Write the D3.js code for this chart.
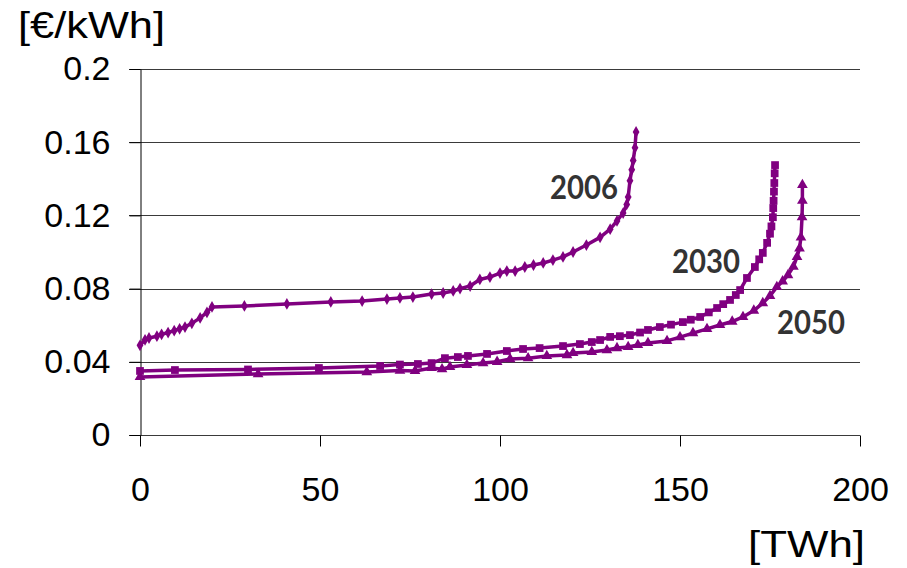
<!DOCTYPE html>
<html>
<head>
    <meta charset="utf-8">
    <title>Supply curves</title>
    <script type="text/javascript" src="https://cdn.jsdelivr.net/npm/d3@7"></script>
    <style>
        body { margin: 0; background: #fff; }
        svg text { font-family: "Liberation Sans", Arial, sans-serif; }
        .axis path.domain { stroke: #000; }
        .axis line { stroke: #000; }
        .grid line { stroke: #3a3a3a; shape-rendering: crispEdges; }
        .series-label { font-family: Lato, "Open Sans", sans-serif !important; font-weight: 700; fill: #333; }
    </style>
</head>
<body>
<script type="text/javascript">
// energy [TWh] / cost [€/kWh]
var x2006 = [0, 1.4, 2.5, 4.7, 6, 7.8, 9.5, 11, 12.5, 14.4, 16.7, 18.6, 20, 29, 40.8, 53, 61.7, 68.6, 72.2, 75.8,
    81, 84.2, 87, 88.9, 91.7, 94.4, 97.2, 100, 101.9, 104.2, 106.9, 109.3, 112, 114.7, 117.5, 120.3, 124, 127.8,
    130.6, 132.5, 134.2, 135.2, 135.6, 136.1, 136.6, 137, 137.5, 137.8];
var y2006 = [0.049, 0.052, 0.053, 0.054, 0.055, 0.056, 0.057, 0.058, 0.059, 0.061, 0.064, 0.067, 0.070, 0.0705, 0.0716, 0.0727, 0.0732, 0.0743, 0.0749, 0.0754,
    0.077, 0.0776, 0.0787, 0.080, 0.0814, 0.085, 0.0863, 0.0885, 0.0896, 0.0896, 0.0918, 0.0929, 0.094, 0.0956, 0.0973, 0.100, 0.1038, 0.108,
    0.1125, 0.117, 0.1213, 0.126, 0.130, 0.139, 0.145, 0.150, 0.157, 0.1656];

var x2030 = [0, 9.7, 30, 49.7, 66.7, 72.2, 77.2, 81, 84.7, 88.3, 91.1, 96.4, 101.9, 106.4, 111, 117.5, 122.2, 125.5,
    127.8, 130.6, 133.3, 136.1, 138.9, 141.1, 144.4, 147.5, 150.8, 153, 155.6, 158, 160.3, 162, 163.9, 165.5, 166.7,
    168.6, 170.8, 172, 173, 174.2, 175, 175.4, 175.8, 175.9, 176, 176.1, 176.2, 176.3, 176.4];
var y2030 = [0.035, 0.0355, 0.0358, 0.0366, 0.0377, 0.0385, 0.0388, 0.0393, 0.042, 0.0426, 0.0432, 0.0443, 0.0459, 0.047, 0.0475, 0.0486, 0.0497, 0.0508,
    0.0519, 0.0536, 0.054, 0.0546, 0.056, 0.0574, 0.059, 0.0603, 0.0617, 0.063, 0.0645, 0.067, 0.0694, 0.0715, 0.0738, 0.0765, 0.0792,
    0.0858, 0.0918, 0.096, 0.0995, 0.105, 0.110, 0.114, 0.119, 0.124, 0.128, 0.133, 0.1377, 0.143, 0.1475];

var x2050 = [0, 32.8, 63, 72.2, 76.4, 81, 83.9, 86.1, 90.8, 95.3, 99.2, 102.8, 107.8, 113, 118.6, 120.3, 125.5, 129.7,
    132.5, 135.6, 138.3, 141.1, 146.4, 150, 153.6, 157.5, 161.1, 164.5, 167.5, 170.5, 173, 175, 176.9, 178.5, 180,
    181.5, 182.5, 183.2, 183.6, 183.9, 184, 184];
var y2050 = [0.0317, 0.0333, 0.0344, 0.0352, 0.035, 0.0366, 0.036, 0.0372, 0.0383, 0.0393, 0.04, 0.0415, 0.042, 0.0432, 0.0437, 0.0448, 0.0454, 0.0464,
    0.0475, 0.0481, 0.0492, 0.0503, 0.0514, 0.0535, 0.0557, 0.058, 0.0601, 0.062, 0.0645, 0.068, 0.0721, 0.076, 0.0809, 0.084, 0.0874,
    0.092, 0.0973, 0.102, 0.108, 0.119, 0.128, 0.1366];

var seriesNames = ["2006", "2030", "2050"];
var xTicks = [0, 50, 100, 150, 200];
var yTicks = [0, 0.04, 0.08, 0.12, 0.16, 0.2];

var width = 907, height = 568,
    margins = {top: 69, left: 140, right: 47, bottom: 133},
    purple = "#800080";

var svg = d3.select("body").append("svg")
    .attr("width", width)
    .attr("height", height);

var x = d3.scaleLinear().domain([0, 200]).range([margins.left, width - margins.right]);
var y = d3.scaleLinear().domain([0, 0.2]).range([height - margins.bottom, margins.top]);

// horizontal gridlines
svg.append("g")
    .attr("class", "grid")
    .selectAll("line")
    .data(yTicks)
    .enter().append("line")
    .attr("x1", margins.left - 11)
    .attr("x2", width - margins.right)
    .attr("y1", function (d) { return Math.round(y(d)) + 0.5; })
    .attr("y2", function (d) { return Math.round(y(d)) + 0.5; });

var yAxis = d3.axisLeft(y)
    .tickValues(yTicks)
    .tickFormat(function (d) { return d === 0 ? "0" : String(+d.toFixed(2)); })
    .tickSizeInner(11)
    .tickSizeOuter(0)
    .tickPadding(19);

svg.append("g")
    .attr("class", "axis y")
    .attr("transform", "translate(" + (margins.left + 0.5) + ",0)")
    .call(yAxis)
    .call(function (g) {
        g.selectAll("text").attr("font-size", 34).attr("fill", "#000").attr("font-family", null);
    });

var xAxis = d3.axisBottom(x)
    .tickValues(xTicks)
    .tickSizeInner(11)
    .tickSizeOuter(0)
    .tickPadding(30);

svg.append("g")
    .attr("class", "axis x")
    .attr("transform", "translate(0," + (Math.round(y(0)) + 0.5) + ")")
    .call(xAxis)
    .call(function (g) {
        g.select("path.domain").remove();
        g.selectAll("text").attr("font-size", 34).attr("fill", "#000").attr("font-family", null);
    });

// axis titles
svg.append("text")
    .attr("x", 18)
    .attr("y", 38)
    .attr("font-size", 36)
    .attr("textLength", 147)
    .attr("lengthAdjust", "spacingAndGlyphs")
    .text("[€/kWh]");

svg.append("text")
    .attr("x", 748)
    .attr("y", 557)
    .attr("font-size", 36)
    .attr("textLength", 117)
    .attr("lengthAdjust", "spacingAndGlyphs")
    .text("[TWh]");

// series
var series = [
    {name: seriesNames[0], xs: x2006, ys: y2006, symbol: d3.symbolDiamond, size: 40},
    {name: seriesNames[1], xs: x2030, ys: y2030, symbol: d3.symbolSquare, size: 60},
    {name: seriesNames[2], xs: x2050, ys: y2050, symbol: d3.symbolTriangle, size: 50}
];

var line = d3.line()
    .x(function (d) { return x(d[0]); })
    .y(function (d) { return y(d[1]); });

var bodyG = svg.append("g").attr("class", "body");

series.forEach(function (s) {
    var pts = d3.zip(s.xs, s.ys);
    bodyG.append("path")
        .datum(pts)
        .attr("fill", "none")
        .attr("stroke", purple)
        .attr("stroke-width", 3.5)
        .attr("stroke-linejoin", "round")
        .attr("d", line);

    bodyG.selectAll("path.m" + s.name)
        .data(pts)
        .enter().append("path")
        .attr("class", "m" + s.name)
        .attr("fill", purple)
        .attr("transform", function (d) { return "translate(" + x(d[0]) + "," + y(d[1]) + ")"; })
        .attr("d", d3.symbol().type(s.symbol).size(s.size));
});

// series labels
var labelPos = [
    {x: 550, y: 199},
    {x: 672, y: 273},
    {x: 777, y: 334}
];

svg.selectAll("text.series-label")
    .data(seriesNames)
    .enter().append("text")
    .attr("class", "series-label")
    .attr("x", function (d, i) { return labelPos[i].x; })
    .attr("y", function (d, i) { return labelPos[i].y; })
    .attr("font-size", 33)
    .attr("textLength", 68)
    .attr("lengthAdjust", "spacingAndGlyphs")
    .text(function (d) { return d; });
</script>
</body>
</html>
